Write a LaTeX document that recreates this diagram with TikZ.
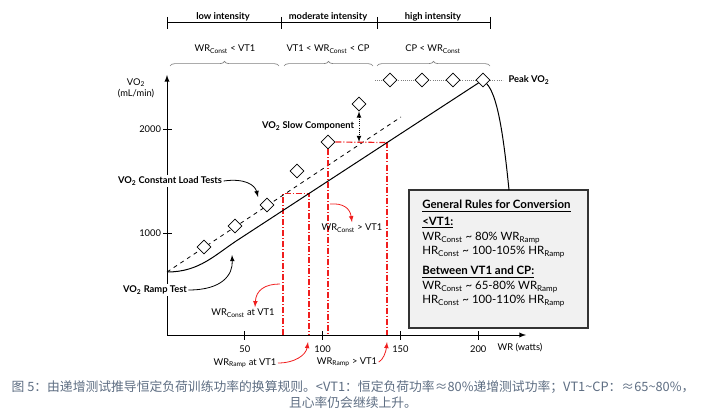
\documentclass[tikz,border=0pt]{standalone}
\usepackage{fontspec}
\setmainfont{Lato}
\newfontfamily\cjk{Noto Sans CJK SC}
\usetikzlibrary{arrows,positioning,shapes.geometric,decorations.pathreplacing}
\definecolor{capblue}{HTML}{5D6D82}
\definecolor{boxgray}{HTML}{F1F1F1}
\definecolor{vtred}{HTML}{F01E1E}
\newcommand{\sbs}[1]{\textsubscript{#1}}
\tikzset{
	axis/.style={line width=0.75pt,-latex},
	test/.style={diamond,draw,fill=white,inner sep=0pt,minimum width=10.5pt,minimum height=10.5pt,line width=0.6pt},
	txt/.style={font=\fontsize{7}{8.5}\selectfont,inner sep=1pt},
	btxt/.style={font=\fontsize{7}{8.5}\selectfont\bfseries,inner sep=1pt},
	rtxt/.style={font=\fontsize{8.6}{10}\selectfont,inner sep=0pt,anchor=west},
	rbtxt/.style={rtxt,font=\fontsize{8.6}{10}\selectfont\bfseries},
	vt/.style={draw=vtred,line width=0.9pt,dash pattern=on 4.5pt off 1.5pt on 0.75pt off 1.5pt},
	vtarr/.style={draw=vtred,line width=0.6pt,-latex},
	blkarr/.style={line width=0.6pt,-latex},
	brc/.style={gray,line width=0.5pt,decorate,decoration={brace,amplitude=3.5pt}},
	rulebox/.style={draw=black!80,line width=1.1pt,fill=boxgray,minimum width=134pt,minimum height=103.5pt,inner sep=0pt}
}
\begin{document}
\begin{tikzpicture}[x=0.75pt,y=-0.75pt]
	\useasboundingbox (0,0) rectangle (706,417);
	\coordinate (O) at (167,335);
	\coordinate (ytop) at (167,75);
	\coordinate (xend) at (526,335);
	\coordinate (r0) at (167,272);
	\coordinate (r1) at (240,238.5);
	\coordinate (d1) at (401,117);
	\coordinate (b1) at (283,193.5);
	\coordinate (b2) at (309,193.5);
	\coordinate (c2) at (387,142.5);
	\coordinate (sc) at (359,142);
	\coordinate (rt) at (509,190);
	\draw[line width=0.75pt] (167,23) -- (490,23);
	\foreach \x in {167,281,377,490}
		\draw[line width=0.75pt] (\x,17) -- (\x,29);
	\node[btxt] (low) at (223,17) {low intensity};
	\node[btxt] (mod) at (328,17) {moderate intensity};
	\node[btxt] (high) at (433,17) {high intensity};
	\draw[brc] (170,66) -- (279,66);
	\draw[brc] (284,66) -- (373,66);
	\draw[brc] (377,66) -- (490,66);
	\node[txt] (z1) at (225,49) {WR\sbs{Const} < VT1};
	\node[txt] (z2) at (328,49) {VT1 < WR\sbs{Const} < CP};
	\node[txt] (z3) at (433,49) {CP < WR\sbs{Const}};
	\draw[axis] (O) -- (ytop);
	\draw[axis] (O) -- (xend);
	\foreach \w in {50,100,150,200}
		\draw[line width=0.6pt] (167+1.556*\w,331) -- (167+1.556*\w,340) node[txt,below=3pt] {\w};
	\foreach \v/\y in {1000/233,2000/129}
		\draw[line width=0.6pt] (163,\y) -- (172,\y) node[txt,left=7pt] {\v};
	\node[txt] (xlab) at (520,348) {WR (watts)};
	\node[txt,align=center] (ylab) at (136,88) {VO\sbs{2}\\(mL/min)};
	\draw[vt] (O -| b1) -- (b1) -- (b2) -- (O -| b2);
	\draw[vt] (c2) -- (O -| c2);
	\draw[line width=0.6pt,dashed] (r0) -- (d1);
	\draw[gray,line width=0.6pt,densely dotted] (375,80) -- (503,80);
	\node[test] (pk1) at (390,80) {};
	\node[test] (pk2) at (422,80) {};
	\node[test] (pk3) at (453,80) {};
	\node[test] (pk4) at (483,80) {};
	\draw[line width=0.75pt] (r0) .. controls (200,272) and (215,254.5) .. (r1) -- (pk4);
	\node[test] (cl1) at (204,247) {};
	\node[test] (cl2) at (235,226) {};
	\node[test] (cl3) at (267,205) {};
	\node[test] (cl4) at (297,171) {};
	\node[test] (cl5) at (328,142) {};
	\node[test] (cl6) at (359,104) {};
	\draw[vt] (cl5.east) -- (c2);
	\draw[vt] (cl5.south) -- (O -| cl5.south);
	\draw[line width=0.6pt,densely dotted,latex-latex] (cl6.south) -- (sc);
	\node[btxt] (slow) at (308,126) {VO\sbs{2} Slow Component};
	\node[btxt,anchor=west] (peak) at (507,80) {Peak VO\sbs{2}};
	\node[btxt,fill=white] (clt) at (170,181) {VO\sbs{2} Constant Load Tests};
	\node[btxt,fill=white] (rmp) at (155,290) {VO\sbs{2} Ramp Test};
	\draw[blkarr] (clt.east) .. controls (245,178) and (255,185) .. (258,197);
	\draw[blkarr] (rmp.east) .. controls (222,290) and (233,275) .. (232,255);
	\node[txt] (wcg) at (352,228) {WR\sbs{Const} > VT1};
	\node[txt] (wca) at (243,313) {WR\sbs{Const} at VT1};
	\node[txt] (wra) at (245,363) {WR\sbs{Ramp} at VT1};
	\node[txt] (wrg) at (347,362) {WR\sbs{Ramp} > VT1};
	\draw[vtarr] (330,204) .. controls (343,203) and (350,208) .. (wcg.north);
	\draw[vtarr] (280,284) .. controls (265,284) and (256,290) .. ([xshift=9pt]wca.north);
	\draw[vtarr] (wra.east) .. controls (295,363) and (306,355) .. (308,342);
	\draw[vtarr] (wrg.east) .. controls (383,360) and (386,352) .. (387,342);
	\node[rulebox] (rules) at (498.5,259) {};
	\draw[line width=0.75pt] (pk4.south east) .. controls (497,95) and (503,130) .. (rt);
	\node[rbtxt] (rl1) at (422,206) {\underline{General Rules for Conversion}};
	\node[rbtxt] (rl2) at (422,223) {\underline{<VT1:}};
	\node[rtxt] (rl3) at (422,238) {WR\sbs{Const} \textasciitilde{} 80\% WR\sbs{Ramp}};
	\node[rtxt] (rl4) at (422,252) {HR\sbs{Const} \textasciitilde{} 100-105\% HR\sbs{Ramp}};
	\node[rbtxt] (rl5) at (422,272) {\underline{Between VT1 and CP:}};
	\node[rtxt] (rl6) at (422,287) {WR\sbs{Const} \textasciitilde{} 65-80\% WR\sbs{Ramp}};
	\node[rtxt] (rl7) at (422,301) {HR\sbs{Const} \textasciitilde{} 100-110\% HR\sbs{Ramp}};
	\node[font=\cjk\fontsize{9.6}{12}\selectfont,text=capblue,align=center,inner sep=0pt] (cap) at (353,395) {图 5：由递增测试推导恒定负荷训练功率的换算规则。<VT1：恒定负荷功率≈80\%递增测试功率；VT1\textasciitilde CP：≈65\textasciitilde 80\%，\\且心率仍会继续上升。};
\end{tikzpicture}
\end{document}
